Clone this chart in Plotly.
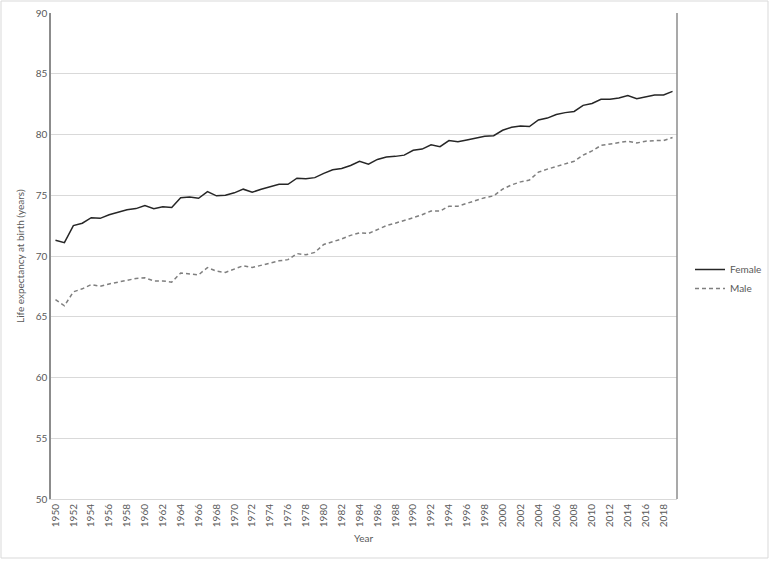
import plotly.graph_objects as go

years = list(range(1950, 2020))
female = [71.3, 71.1, 72.5, 72.7, 73.15, 73.1, 73.4, 73.6, 73.8, 73.9,
          74.15, 73.9, 74.05, 74.0, 74.8, 74.85, 74.75, 75.3, 74.95, 75.0,
          75.2, 75.5, 75.25, 75.5, 75.7, 75.9, 75.9, 76.4, 76.35, 76.45,
          76.8, 77.1, 77.2, 77.45, 77.8, 77.55, 77.95, 78.15, 78.2, 78.3,
          78.7, 78.8, 79.15, 79.0, 79.5, 79.4, 79.55, 79.7, 79.85, 79.9,
          80.35, 80.6, 80.7, 80.65, 81.2, 81.35, 81.65, 81.8, 81.9, 82.4,
          82.55, 82.9, 82.9, 83.0, 83.2, 82.95, 83.1, 83.25, 83.25, 83.55]
male = [66.4, 65.9, 67.05, 67.3, 67.65, 67.5, 67.7, 67.85, 68.0, 68.15,
        68.2, 67.95, 67.95, 67.85, 68.6, 68.55, 68.45, 69.05, 68.75, 68.65,
        68.9, 69.2, 69.05, 69.25, 69.45, 69.6, 69.7, 70.2, 70.1, 70.3,
        70.95, 71.15, 71.4, 71.7, 71.9, 71.85, 72.2, 72.5, 72.7, 72.9,
        73.15, 73.4, 73.7, 73.7, 74.1, 74.1, 74.35, 74.6, 74.8, 74.95,
        75.5, 75.85, 76.1, 76.25, 76.9, 77.15, 77.35, 77.6, 77.8, 78.3,
        78.65, 79.1, 79.2, 79.3, 79.45, 79.3, 79.45, 79.5, 79.5, 79.75]
tick_years = [str(y) for y in range(1950, 2019, 2)]
x_title = "Year"
y_title = "Life expectancy at birth (years)"

x = [str(y) for y in years]
font_color = "#595959"
FONT = "Lato, 'Open Sans', sans-serif"

fig = go.Figure()
fig.add_trace(go.Scatter(x=x, y=female, mode="lines", name="Female",
                         line=dict(color="#262626", width=1.5)))
fig.add_trace(go.Scatter(x=x, y=male, mode="lines", name="Male",
                         line=dict(color="#7f7f7f", width=1.5, dash="4px,3px")))

W, H = 778, 567
L, R, T, B = 51, 677, 13, 499

def px(xp):
    return (xp - L) / (R - L)

def py(yp):
    return (B - yp) / (B - T)

fig.update_layout(
    width=W, height=H,
    margin=dict(l=L, r=W - R, t=T, b=H - B, autoexpand=False),
    paper_bgcolor="white", plot_bgcolor="white",
    font=dict(family=FONT, size=10, color=font_color),
    showlegend=True,
    legend=dict(x=px(690), y=py(255), xanchor="left", yanchor="top",
                font=dict(size=10, color=font_color), bgcolor="rgba(0,0,0,0)",
                tracegroupgap=0),
    xaxis=dict(type="category", categoryorder="array", categoryarray=x,
               range=[-0.5, len(x) - 0.5], automargin=False,
               tickmode="array", tickvals=tick_years, ticktext=tick_years,
               tickangle=-90, tickfont=dict(size=10, color=font_color),
               showgrid=False, showline=True, linecolor="#d9d9d9", linewidth=1,
               ticks="", zeroline=False),
    yaxis=dict(range=[50, 90], dtick=5, tick0=50, automargin=False,
               showgrid=True, gridcolor="#d9d9d9", gridwidth=1,
               showline=True, linecolor="#8c8c8c", linewidth=1.5,
               ticks="", zeroline=False,
               tickfont=dict(size=10, color=font_color)),
    annotations=[
        dict(text=x_title, xref="paper", yref="paper", x=px(363), y=py(538),
             xanchor="center", yanchor="middle", showarrow=False,
             font=dict(size=10, color=font_color)),
        dict(text=y_title, xref="paper", yref="paper", x=px(20), y=py(256),
             xanchor="center", yanchor="middle", showarrow=False, textangle=-90,
             font=dict(size=10, color=font_color)),
    ],
)

# right border of plot area
fig.add_shape(type="line", xref="paper", yref="paper", x0=1, x1=1, y0=0, y1=1,
              line=dict(color="#8c8c8c", width=1.5))
# outer chart border
fig.add_shape(type="rect", xref="paper", yref="paper",
              x0=px(1), x1=px(768), y0=py(558), y1=py(1),
              line=dict(color="#d9d9d9", width=1), fillcolor="rgba(0,0,0,0)",
              layer="below")

fig.write_html("out.html", config={"displayModeBar": False},
               post_script="document.body.style.margin='0';document.body.style.overflow='hidden';")
